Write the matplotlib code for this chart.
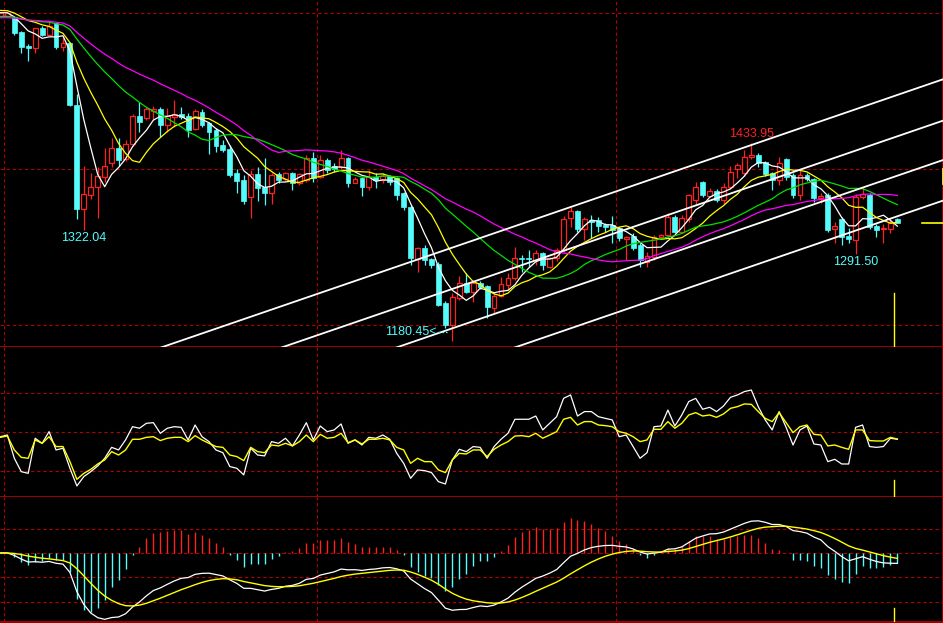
import numpy as np
import pandas as pd
import matplotlib
matplotlib.use("Agg")
import matplotlib.pyplot as plt
from matplotlib.patches import Rectangle

# ---- daily candles (index points) ----
opens = [1596.5, 1597, 1595, 1576, 1558, 1555, 1581, 1572.5, 1587, 1557,
         1561.4, 1482, 1348.7, 1367, 1377, 1390.5, 1408.4, 1427.7, 1412.7, 1432.4,
         1468.3, 1466, 1475, 1477, 1456.7, 1466.6, 1470.4, 1468.7, 1452, 1473,
         1458.9, 1450.3, 1431, 1426, 1394.8, 1386.2, 1364.8, 1393.9, 1377.7, 1370,
         1393.5, 1387.5, 1394.8, 1382.8, 1386.2, 1414.8, 1390.6, 1412, 1403.8, 1403.4,
         1414, 1382.9, 1388.4, 1376.9, 1390.6, 1386.3, 1391.4, 1388.4, 1369.2, 1352.1,
         1284.6, 1298.7, 1284.6, 1278.6, 1229, 1200.4, 1234.6, 1253.8, 1243.1, 1253.8,
         1250.4, 1222.6, 1237.6, 1251.7, 1260.2, 1286.7, 1286.7, 1283.7, 1292.3, 1275.2,
         1285.8, 1296.5, 1337.1, 1347, 1323.1, 1335, 1335, 1328.6, 1328.6, 1324.5,
         1310.2, 1314.5, 1302.9, 1281.6, 1288, 1312.8, 1315.7, 1339.3, 1320, 1336,
         1360, 1384.2, 1366.2, 1372.2, 1361, 1377, 1400, 1394.8, 1415.4, 1418.3,
         1409, 1394.8, 1386.3, 1412.8, 1392.7, 1367.1, 1392.6, 1387.1, 1362.7, 1367,
         1323, 1336.2, 1314.4, 1309.3, 1364, 1367, 1327.3, 1323, 1323, 1336.2]
highs = [1601, 1602, 1597, 1577, 1560.6, 1581, 1584, 1590.5, 1589, 1569,
         1563, 1496, 1404.6, 1395, 1403, 1427, 1440.5, 1439.6, 1437.5, 1470.4,
         1486.6, 1480, 1481, 1479.4, 1478, 1488.8, 1479.4, 1471.7, 1477.2, 1477.2,
         1461, 1452.4, 1437.5, 1431, 1400.3, 1392.6, 1399, 1402.4, 1414, 1394.8,
         1396, 1397, 1396.5, 1394.8, 1418.3, 1422.5, 1418.3, 1414, 1407.7, 1424.8,
         1416.2, 1390.6, 1390.6, 1399.1, 1394.8, 1394.8, 1392.7, 1390.6, 1371.3, 1354.2,
         1300.8, 1303, 1285.8, 1281.6, 1231.6, 1241, 1263.2, 1267.5, 1258, 1257.2,
         1251.7, 1241, 1262.3, 1266.6, 1300, 1290.1, 1296.5, 1296.5, 1294.4, 1288,
         1298.7, 1340.1, 1352.1, 1347.8, 1338.4, 1341.4, 1338.4, 1330.7, 1340.1, 1326,
         1314, 1317.9, 1305.1, 1294.4, 1315.7, 1317, 1344.4, 1341.4, 1341.4, 1368.3,
         1384, 1385.4, 1375.6, 1374.3, 1382, 1404, 1408.5, 1424.8, 1433.95, 1420.5,
         1411, 1397, 1416.2, 1414, 1395.7, 1399.1, 1394.8, 1388.4, 1369.2, 1369.2,
         1332.8, 1339.2, 1324.3, 1368.3, 1375.5, 1369.2, 1329.8, 1329.8, 1337.1, 1337.1]
lows = [1595, 1596, 1572, 1549.5, 1539, 1549, 1571, 1572, 1554, 1552,
        1481, 1336, 1322.04, 1362, 1337, 1384, 1403, 1404.6, 1410, 1430,
        1448.2, 1463, 1463, 1441, 1448, 1454.6, 1464.4, 1441.8, 1450, 1453.7,
        1419.5, 1422.5, 1421.7, 1390, 1370, 1355, 1337, 1359.3, 1354, 1355.4,
        1382.8, 1385, 1373.4, 1379.8, 1384, 1384, 1388.4, 1394.8, 1397, 1401,
        1377.7, 1382, 1365.8, 1373.5, 1375.6, 1382, 1379.9, 1360.7, 1347.8, 1277.3,
        1268.8, 1277.3, 1273, 1224.8, 1196.1, 1180.45, 1232.4, 1241, 1230.3, 1246,
        1208.9, 1216.2, 1236, 1245, 1258, 1268.8, 1275.2, 1277.3, 1270.9, 1273,
        1283, 1294.4, 1326.5, 1320, 1309.4, 1311.5, 1320, 1320, 1306, 1308,
        1283.7, 1296.5, 1275.2, 1274.3, 1283.7, 1311.5, 1311.5, 1317.9, 1317.9, 1333,
        1355, 1365, 1364, 1358, 1355, 1375, 1388.4, 1392, 1413, 1403.4,
        1392, 1373.5, 1379.9, 1386.3, 1363, 1360.7, 1385, 1358.5, 1356.3, 1320,
        1305, 1302.9, 1305, 1291.5, 1361.4, 1324, 1313.6, 1305.9, 1317.9, 1330.7]
closes = [1600, 1600.5, 1574.4, 1557, 1555, 1581, 1572, 1583.7, 1557, 1562,
          1482, 1348.7, 1367.8, 1377, 1391, 1404, 1427.7, 1412, 1432.4, 1468.3,
          1460.6, 1476.8, 1477, 1456.7, 1468.3, 1470.4, 1467.4, 1451, 1474.7, 1456.7,
          1448.2, 1429.8, 1424.7, 1392.6, 1384.9, 1359.3, 1393.9, 1376.4, 1369, 1392.6,
          1385.8, 1394.8, 1382.8, 1393.5, 1414, 1388.3, 1412, 1399.1, 1401, 1414,
          1382, 1387.1, 1376.9, 1390.6, 1386.3, 1391.4, 1384.2, 1367.1, 1352.1, 1285.8,
          1298.7, 1283.7, 1277.3, 1226, 1200.4, 1236.7, 1253.8, 1243.1, 1254.7, 1249.5,
          1223.9, 1237.6, 1252.5, 1260.2, 1285.8, 1284.6, 1284.6, 1292.3, 1277.3, 1285.8,
          1296.5, 1335.9, 1347, 1323.1, 1335.9, 1332.9, 1327.3, 1325.6, 1322.2, 1312,
          1313.6, 1299.5, 1283.7, 1288.8, 1313.6, 1315.7, 1339.3, 1320, 1337.1, 1367,
          1377, 1367.1, 1372.2, 1360.7, 1377.7, 1397, 1405.5, 1415.4, 1418.3, 1407.7,
          1394, 1386.3, 1407.7, 1390.6, 1367.1, 1392.7, 1387.1, 1362.7, 1365.7, 1322.1,
          1327.3, 1312.7, 1310.2, 1364.9, 1368.3, 1325.5, 1322.1, 1325.1, 1331.5, 1331.5]

# moving averages: period -> level at the left edge (history off screen)
ma_periods = [5, 10, 20, 30]
ma_seeds = [1601, 1604, 1595.6, 1594]
ma_colors = ["#ffffff", "#ffff00", "#00e000", "#ff00ff"]

# user drawn parallel channel: prices at bar 89, rise per bar
channel_bar = 89
channel_prices = [1373, 1320, 1269.5, 1217.5]
channel_slope = 3.057

# second panel oscillator (fast white / slow yellow)
osc_fast = [46.4, 47.7, 29.8, 19.5, 18.2, 45.2, 41.3, 50.3, 36.2, 37.5,
            22.1, 8.5, 15.7, 19.5, 23.9, 29.8, 38.2, 36.2, 43.9, 54.1,
            52.9, 56.7, 57.2, 49.0, 52.9, 54.1, 53.6, 43.9, 55.4, 46.4,
            42.6, 36.2, 34.1, 23.4, 22.1, 17.0, 37.5, 32.3, 31.6, 42.6,
            41.3, 45.2, 39.3, 47.7, 57.2, 43.9, 54.6, 50.3, 51.6, 56.2,
            41.3, 43.9, 40.0, 45.9, 45.2, 47.7, 44.4, 33.6, 25.9, 14.4,
            20.8, 20.3, 18.8, 11.8, 10.0, 28.5, 36.7, 34.9, 38.8, 38.2,
            29.8, 38.8, 44.4, 49.0, 59.8, 59.8, 59.8, 62.3, 51.6, 56.7,
            61.8, 75.9, 78.5, 62.3, 65.7, 65.7, 61.8, 60.5, 59.3, 46.4,
            47.7, 38.8, 29.8, 34.1, 54.1, 54.6, 66.9, 54.6, 63.1, 73.4,
            75.9, 67.5, 69.0, 65.7, 70.0, 76.7, 78.5, 81.1, 82.3, 69.5,
            59.3, 51.6, 65.7, 53.6, 40.0, 51.6, 54.6, 40.8, 40.0, 27.2,
            29.0, 25.4, 25.4, 53.6, 55.4, 38.8, 38.2, 38.8, 45.2, 44.4]
osc_slow = [45.9, 46.9, 36.2, 30.5, 29.8, 43.9, 41.3, 46.4, 38.8, 38.8,
            27.2, 13.6, 18.2, 21.3, 25.4, 28.5, 34.9, 32.3, 36.2, 44.4,
            44.4, 45.9, 46.4, 43.4, 45.2, 45.9, 45.9, 42.6, 47.2, 43.9,
            41.3, 38.8, 38.2, 32.3, 31.1, 28.0, 38.2, 34.9, 34.1, 40.0,
            39.3, 41.3, 39.3, 42.6, 47.7, 42.6, 48.2, 45.2, 45.9, 49.0,
            41.8, 43.9, 40.8, 44.4, 44.4, 45.2, 43.9, 38.2, 36.2, 25.9,
            29.8, 27.2, 27.2, 20.8, 18.8, 28.5, 33.6, 33.1, 36.2, 36.2,
            31.1, 36.7, 40.0, 42.6, 46.9, 47.2, 46.4, 49.0, 45.2, 47.7,
            50.3, 59.8, 61.3, 55.4, 58.0, 58.0, 55.4, 54.9, 54.1, 50.3,
            49.0, 46.4, 42.6, 43.9, 52.1, 52.1, 58.0, 52.9, 56.7, 63.1,
            64.9, 62.3, 63.1, 61.3, 63.9, 68.2, 69.5, 71.6, 71.3, 65.7,
            60.5, 58.0, 64.9, 57.2, 49.5, 54.1, 55.4, 48.2, 47.7, 39.3,
            40.0, 38.2, 36.7, 51.6, 51.6, 43.4, 43.1, 43.1, 45.9, 44.6]

# price extremes marked on the chart
mark_low1 = 1322.04
mark_low2 = 1180.45
mark_high = 1433.95
mark_low3 = 1291.50

# colours
bg = "black"
grid_red = "#b00000"
up_red = "#ff2020"
down_cyan = "#54fcfc"
lbl_font = ["Liberation Sans Narrow", "Liberation Sans", "DejaVu Sans"]

n = len(closes)
x = np.arange(n)
close_s = pd.Series(closes)

# MA with off-screen history held at the seed level
ma_lines = []
for p, seed in zip(ma_periods, ma_seeds):
    ext = pd.Series([seed] * (p - 1) + closes)
    ma_lines.append(ext.rolling(p).mean().to_numpy()[p - 1:])

# MACD (12, 26, 9)
ema12 = close_s.ewm(span=12, adjust=False).mean()
ema26 = close_s.ewm(span=26, adjust=False).mean()
dif = ema12 - ema26
dea = dif.ewm(span=9, adjust=False).mean()
hist = 2 * (dif - dea)

W, H = 943, 623
fig = plt.figure(figsize=(W / 100, H / 100), dpi=100, facecolor=bg)

def px_axes(top, bottom):
    return fig.add_axes([0, (H - bottom) / H, 1, (bottom - top) / H], facecolor=bg)

ax = px_axes(0, 347)
ax2 = px_axes(347, 497)
ax3 = px_axes(497, 622)

xlim = (-0.4 / 6.953, (W - 0.4) / 6.953)
for a in (ax, ax2, ax3):
    a.set_xlim(*xlim)
    a.set_xticks([])
    a.set_yticks([])
    for s in ("top", "left"):
        a.spines[s].set_visible(False)
    for s in ("bottom", "right"):
        a.spines[s].set_color(grid_red)
        a.spines[s].set_linewidth(1.3)
    for vx in (0.5, 45.5, 88.5):
        a.axvline(vx, color=grid_red, lw=0.8, dashes=(3, 2.5), zorder=1)

ax.set_ylim(1172.2, 1617.0)
for gy in (1200, 1400, 1600):
    ax.axhline(gy, color=grid_red, lw=0.8, dashes=(3, 2.5), zorder=1)

# candles
bw = 0.7
for i in range(n):
    o, h, l, c = opens[i], highs[i], lows[i], closes[i]
    if c >= o:
        ax.vlines(i, l, h, color=up_red, lw=0.9, zorder=2)
        ax.add_patch(Rectangle((i - bw / 2, o), bw, max(c - o, 0.6),
                               facecolor=bg, edgecolor=up_red, lw=0.9, zorder=3))
    else:
        ax.vlines(i, l, h, color=down_cyan, lw=0.9, zorder=2)
        ax.add_patch(Rectangle((i - bw / 2, c), bw, max(o - c, 0.6),
                               facecolor=down_cyan, edgecolor=down_cyan, lw=0.5, zorder=3))

for ma, col in zip(ma_lines, ma_colors):
    ax.plot(x, ma, color=col, lw=0.9, zorder=4)

cx = np.array([0, 140])
for cp in channel_prices:
    ax.plot(cx, cp + channel_slope * (cx - channel_bar), color="white", lw=1.3, zorder=5)

# extreme labels
i_l1 = lows.index(mark_low1)
i_l2 = lows.index(mark_low2)
i_h = highs.index(mark_high)
i_l3 = lows.index(mark_low3)
ax.text(i_l1, mark_low1 - 3, f"{mark_low1:.2f}", color=down_cyan, ha="center", va="top",
        fontsize=9, family=lbl_font, zorder=6)
ax.text(i_h, mark_high + 3, f"{mark_high:.2f}", color=up_red, ha="center", va="bottom",
        fontsize=9, family=lbl_font, zorder=6)
ax.text(i_l3, mark_low3 - 3, f"{mark_low3:.2f}", color=down_cyan, ha="center", va="top",
        fontsize=9, family=lbl_font, zorder=6)
ax.text(i_l2 - 2.2, mark_low2 + 11, f"{mark_low2:.2f}<", color=down_cyan, ha="right",
        va="center", fontsize=9, family=lbl_font, zorder=6)
ax.plot([i_l2 - 2.1, i_l2 - 0.7], [mark_low2 + 11] * 2, color=down_cyan, lw=0.9,
        dashes=(1.5, 1.5), zorder=6)

# yellow cursor marks
ax.axvline(128.5, ymin=0, ymax=0.156, color="yellow", lw=1, zorder=6)
ax.plot([132.5, 135.5], [closes[-1]] * 2, color="yellow", lw=1.2, zorder=6)
ax.plot([135.5, 135.5], [1382, 1401], color="yellow", lw=2, zorder=6)

# oscillator panel
ax2.set_ylim(0, 115.4)
for gy in (20, 50, 80):
    ax2.axhline(gy, color=grid_red, lw=0.8, dashes=(3, 2.5), zorder=1)
ax2.plot(x, osc_fast, color="white", lw=0.9, zorder=3)
ax2.plot(x, osc_slow, color="yellow", lw=1.0, zorder=3)
ax2.axvline(128.5, ymin=0, ymax=0.113, color="yellow", lw=1, zorder=4)

# MACD panel
ax3.set_ylim(-56.6, 45.9)
for gy in (20, 0, -20, -40):
    ax3.axhline(gy, color=grid_red, lw=0.8, dashes=(3, 2.5), zorder=1)
hcol = [up_red if v >= 0 else down_cyan for v in hist]
ax3.vlines(x, 0, hist, colors=hcol, lw=1.0, zorder=2)
ax3.plot(x, dif, color="white", lw=0.9, zorder=3)
ax3.plot(x, dea, color="yellow", lw=1.0, zorder=3)
ax3.axvline(128.5, ymin=0, ymax=0.112, color="yellow", lw=1, zorder=4)

fig.savefig("out.png", dpi=100, facecolor=bg)
